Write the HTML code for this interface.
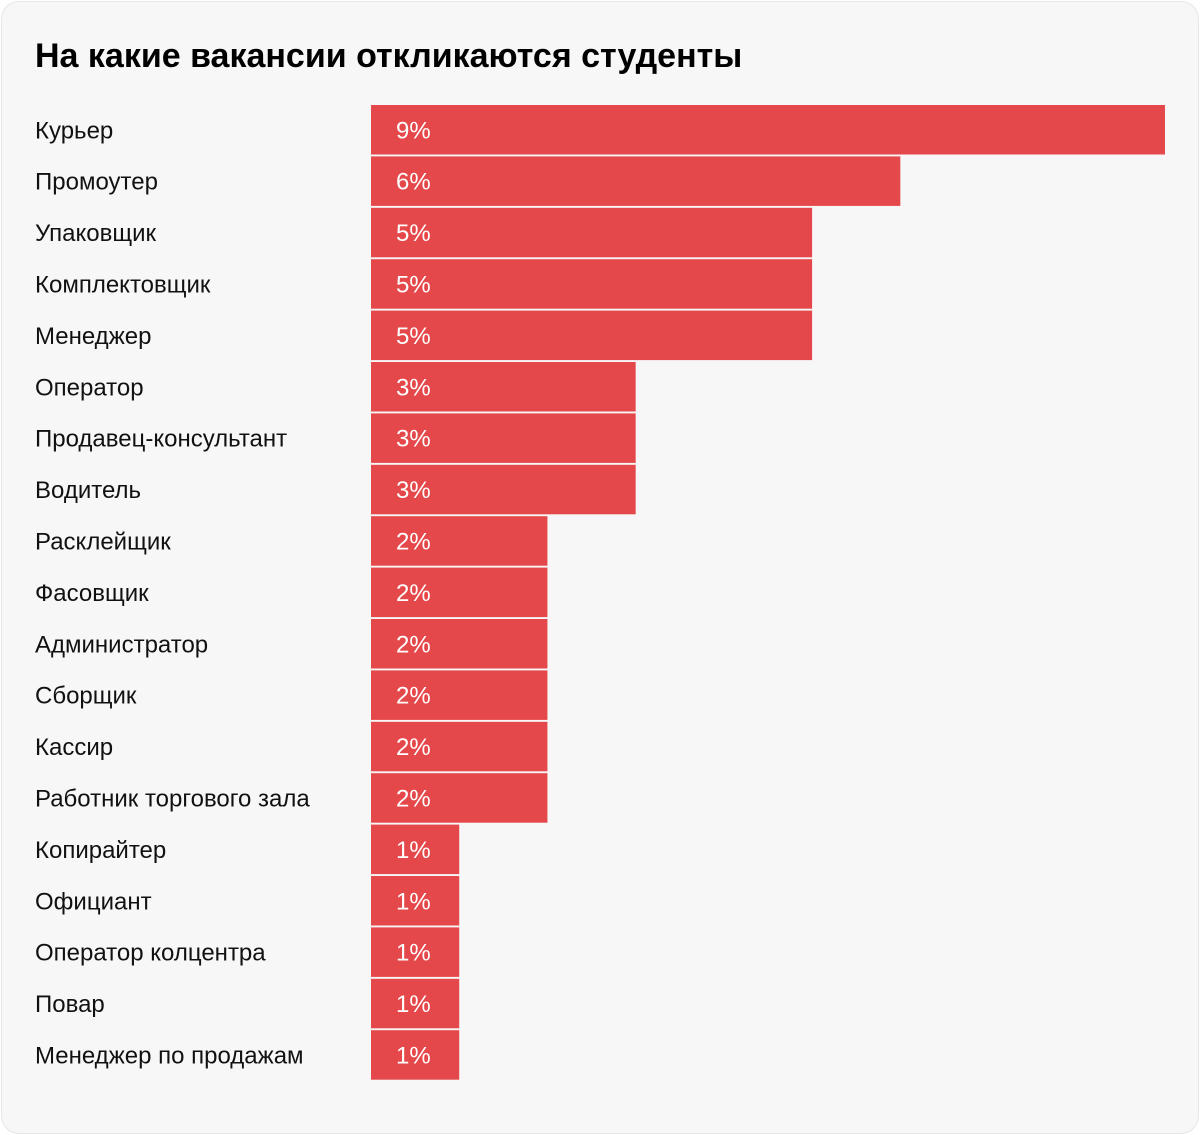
<!DOCTYPE html>
<html><head><meta charset="utf-8"><style>
body{margin:0;width:1200px;height:1135px;background:#fff;font-family:"Liberation Sans",sans-serif;}
#card{position:absolute;left:1px;top:1px;width:1196px;height:1131px;border:1px solid #e6e6e6;border-radius:18px;background:#f7f7f7;}
svg{position:absolute;left:0;top:0}
</style></head><body>
<div id="card"></div>
<svg id="chart" width="1200" height="1135">
<text x="35" y="67" font-size="34" font-weight="bold" fill="#000" font-family="Liberation Sans, sans-serif">На какие вакансии откликаются студенты</text>
</svg>
<script>
const categories=["Курьер","Промоутер","Упаковщик","Комплектовщик","Менеджер","Оператор","Продавец-консультант","Водитель","Расклейщик","Фасовщик","Администратор","Сборщик","Кассир","Работник торгового зала","Копирайтер","Официант","Оператор колцентра","Повар","Менеджер по продажам"];
const values=[9,6,5,5,5,3,3,3,2,2,2,2,2,2,1,1,1,1,1];
const valueLabels=["9%","6%","5%","5%","5%","3%","3%","3%","2%","2%","2%","2%","2%","2%","1%","1%","1%","1%","1%"];
const svg=document.getElementById('chart');
const NS='http://www.w3.org/2000/svg';
const x0=371, pxPer=88.22, top0=105, pitch=51.4, bh=49.5;
const xScale=v=>v*pxPer;
const yScale=i=>top0+i*pitch;
categories.forEach((c,i)=>{
  const y=yScale(i);
  const r=document.createElementNS(NS,'rect');
  r.setAttribute('x',x0);r.setAttribute('y',y);r.setAttribute('width',xScale(values[i]));r.setAttribute('height',bh);r.setAttribute('fill','#e5484a');
  
  
  svg.appendChild(r);
  const l=document.createElementNS(NS,'text');
  l.setAttribute('x',35);l.setAttribute('y',y+bh/2+8.5);l.setAttribute('font-size','24');l.setAttribute('fill','#111');
  l.textContent=c;
  
  
  svg.appendChild(l);
  const v=document.createElementNS(NS,'text');
  v.setAttribute('x',396);v.setAttribute('y',y+bh/2+8.5);v.setAttribute('font-size','24');v.setAttribute('fill','#fff');
  v.textContent=valueLabels[i];
  
  
  svg.appendChild(v);
});
</script>
</body></html>
